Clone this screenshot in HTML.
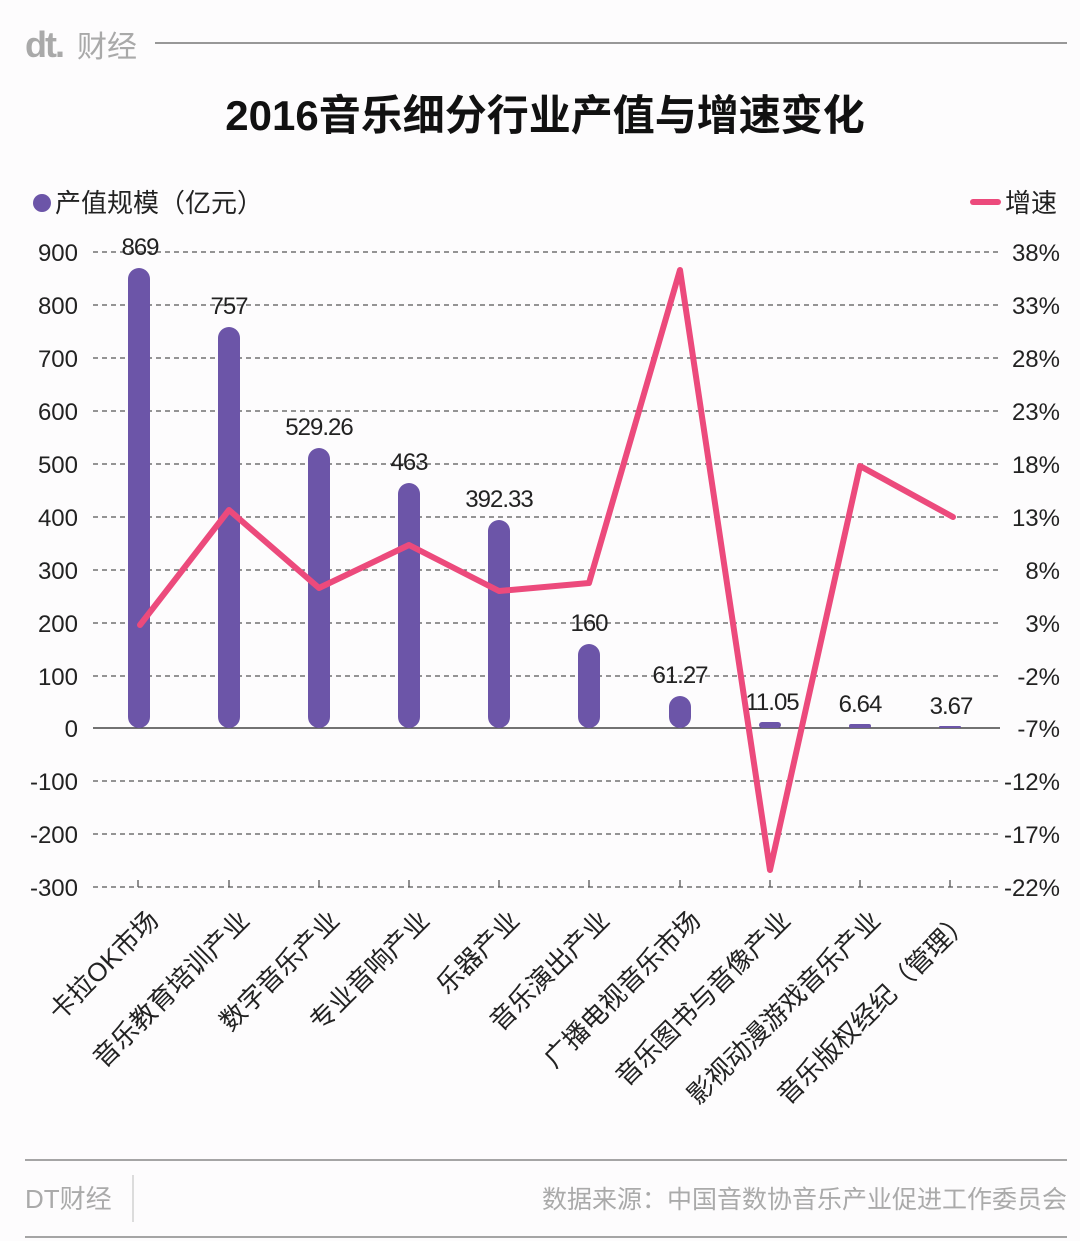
<!DOCTYPE html>
<html><head><meta charset="utf-8"><style>
html,body{margin:0;padding:0;background:#fdfcfd;}
svg{display:block;font-family:"Liberation Sans","Noto Sans CJK SC",sans-serif;}
</style></head><body>
<svg width="1080" height="1241" viewBox="0 0 1080 1241" xmlns="http://www.w3.org/2000/svg">
<rect width="1080" height="1241" fill="#fdfcfd"/>
<text x="25" y="57" font-size="36" font-weight="bold" fill="#a9a9a9" letter-spacing="-2">dt.</text>
<text x="77" y="57" font-size="30" fill="#a9a9a9">财经</text>
<line x1="155" y1="43" x2="1067" y2="43" stroke="#777" stroke-width="1.5"/>
<text x="545" y="130" font-size="42" font-weight="bold" text-anchor="middle" fill="#111">2016音乐细分行业产值与增速变化</text>
<circle cx="42" cy="203" r="9" fill="#6c55a8"/>
<text x="55" y="212" font-size="26" fill="#222">产值规模（亿元）</text>
<line x1="973" y1="202" x2="998" y2="202" stroke="#ec4a7c" stroke-width="6" stroke-linecap="round"/>
<text x="1005" y="212" font-size="26" fill="#222">增速</text>
<g stroke="#555" stroke-width="1.3" stroke-dasharray="5,4">
<line x1="93" y1="252" x2="1000" y2="252"/><line x1="93" y1="305" x2="1000" y2="305"/>
<line x1="93" y1="358" x2="1000" y2="358"/><line x1="93" y1="411" x2="1000" y2="411"/>
<line x1="93" y1="464" x2="1000" y2="464"/><line x1="93" y1="517" x2="1000" y2="517"/>
<line x1="93" y1="570" x2="1000" y2="570"/><line x1="93" y1="623" x2="1000" y2="623"/>
<line x1="93" y1="676" x2="1000" y2="676"/>
<line x1="93" y1="781" x2="1000" y2="781"/><line x1="93" y1="834" x2="1000" y2="834"/>
<line x1="93" y1="887" x2="1000" y2="887"/>
</g>
<line x1="93" y1="728" x2="1000" y2="728" stroke="#444" stroke-width="1.5"/>
<g stroke="#555" stroke-width="1.3">
<line x1="138" y1="880" x2="138" y2="887"/><line x1="229" y1="880" x2="229" y2="887"/><line x1="319" y1="880" x2="319" y2="887"/><line x1="409" y1="880" x2="409" y2="887"/><line x1="499" y1="880" x2="499" y2="887"/><line x1="589" y1="880" x2="589" y2="887"/><line x1="680" y1="880" x2="680" y2="887"/><line x1="770" y1="880" x2="770" y2="887"/><line x1="860" y1="880" x2="860" y2="887"/><line x1="950" y1="880" x2="950" y2="887"/>
</g>
<g font-size="24" fill="#222" text-anchor="end">
<text x="78" y="261">900</text><text x="78" y="314">800</text><text x="78" y="367">700</text><text x="78" y="420">600</text><text x="78" y="473">500</text><text x="78" y="526">400</text><text x="78" y="579">300</text><text x="78" y="632">200</text><text x="78" y="685">100</text><text x="78" y="737">0</text><text x="78" y="790">-100</text><text x="78" y="843">-200</text><text x="78" y="896">-300</text>
</g>
<g font-size="24" fill="#222" text-anchor="end">
<text x="1060" y="261">38%</text><text x="1060" y="314">33%</text><text x="1060" y="367">28%</text><text x="1060" y="420">23%</text><text x="1060" y="473">18%</text><text x="1060" y="526">13%</text><text x="1060" y="579">8%</text><text x="1060" y="632">3%</text><text x="1060" y="685">-2%</text><text x="1060" y="737">-7%</text><text x="1060" y="790">-12%</text><text x="1060" y="843">-17%</text><text x="1060" y="896">-22%</text>
</g>
<g fill="#6c55a8">
<rect x="128" y="268" width="22" height="460" rx="11"/>
<rect x="218" y="327" width="22" height="401" rx="11"/>
<rect x="308" y="448" width="22" height="280" rx="11"/>
<rect x="398" y="483" width="22" height="245" rx="11"/>
<rect x="488" y="520" width="22" height="208" rx="11"/>
<rect x="578" y="644" width="22" height="84" rx="11"/>
<rect x="669" y="696" width="22" height="32" rx="11"/>
<rect x="759" y="722" width="22" height="6" rx="3"/>
<rect x="849" y="724" width="22" height="4" rx="2"/>
<rect x="939" y="726" width="22" height="2" rx="1"/>
</g>
<g font-size="24" fill="#222" text-anchor="middle" letter-spacing="-1">
<text x="140" y="255">869</text><text x="229" y="314">757</text><text x="319" y="435">529.26</text><text x="409" y="470">463</text><text x="499" y="507">392.33</text><text x="589" y="631">160</text><text x="680" y="683">61.27</text><text x="772" y="710">11.05</text><text x="860" y="712">6.64</text><text x="951" y="714">3.67</text>
</g>
<polyline points="140,625 229,510 319,588 409,545 499,591 589,583 680,270 770,870 860,466 953,517" fill="none" stroke="#ec4a7c" stroke-width="6" stroke-linejoin="round" stroke-linecap="round"/>
<g font-size="26" fill="#222" text-anchor="end">
<text transform="translate(160,922) rotate(-45)">卡拉OK市场</text>
<text transform="translate(251,922) rotate(-45)">音乐教育培训产业</text>
<text transform="translate(341,922) rotate(-45)">数字音乐产业</text>
<text transform="translate(431,922) rotate(-45)">专业音响产业</text>
<text transform="translate(521,922) rotate(-45)">乐器产业</text>
<text transform="translate(611,922) rotate(-45)">音乐演出产业</text>
<text transform="translate(702,922) rotate(-45)">广播电视音乐市场</text>
<text transform="translate(792,922) rotate(-45)">音乐图书与音像产业</text>
<text transform="translate(882,922) rotate(-45)">影视动漫游戏音乐产业</text>
<text transform="translate(972,922) rotate(-45)">音乐版权经纪（管理）</text>
</g>
<line x1="25" y1="1160" x2="1067" y2="1160" stroke="#888" stroke-width="1.5"/>
<line x1="25" y1="1237" x2="1067" y2="1237" stroke="#888" stroke-width="1.5"/>
<line x1="133" y1="1175" x2="133" y2="1222" stroke="#bbb" stroke-width="1"/>
<text x="25" y="1208" font-size="26" fill="#aaa">DT财经</text>
<text x="1067" y="1208" font-size="25" fill="#aaa" text-anchor="end">数据来源：中国音数协音乐产业促进工作委员会</text>
</svg>
</body></html>
